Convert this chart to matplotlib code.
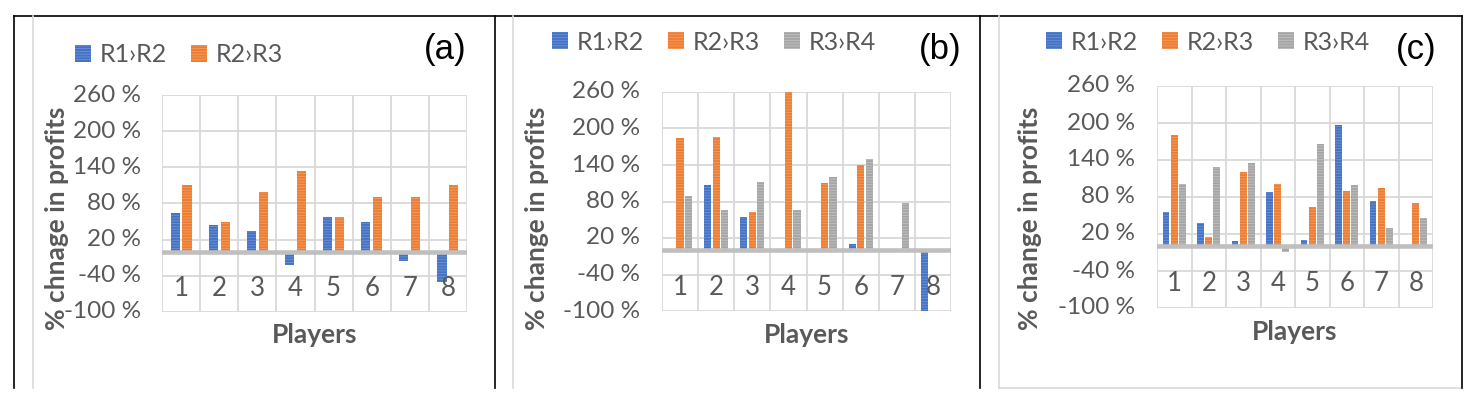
import matplotlib
matplotlib.use('Agg')
import matplotlib.pyplot as plt
import numpy as np
from matplotlib.lines import Line2D
from matplotlib.patches import Patch

players = [1, 2, 3, 4, 5, 6, 7, 8]
yticks = [-100, -40, 20, 80, 140, 200, 260]
series_names = ['R1\u203aR2', 'R2\u203aR3', 'R3\u203aR4']

# panel (a)
a_r12 = [65, 44, 35, -22, 57, 49, -16, -51]
a_r23 = [110, 50, 99, 134, 58, 90, 90, 110]
# panel (b)
b_r12 = [0, 107, 55, 0, 0, 10, 0, -100]
b_r23 = [184, 186, 63, 260, 110, 140, 0, 0]
b_r34 = [89, 66, 112, 66, 120, 150, 78, 0]
# panel (c)
c_r12 = [56, 38, 9, 88, 10, 197, 73, -3]
c_r23 = [180, 15, 120, 101, 64, 90, 95, 70]
c_r34 = [101, 129, 135, -9, 166, 99, 30, 46]

colors = ['#4472C4', '#ED7D31', '#A5A5A5']
hatch_colors = ['#6E93D6', '#F39C63', '#C2C2C2']
TXT = '#595959'
GRID = '#D9D9D9'

plt.rcParams['font.family'] = ['Lato', 'DejaVu Sans']
plt.rcParams['hatch.linewidth'] = 0.6

W, H = 1475, 403
fig = plt.figure(figsize=(W / 100, H / 100), dpi=100)


def fx(px):
    return px / W


def fy(py):
    return 1 - py / H


def box(l, t, r, b):
    return [fx(l), fy(b), fx(r) - fx(l), fy(t) - fy(b)]


def panel(rect, data, width, offsets, ylab, letter, tick_right, ylab_x, leg_x, leg_y, players_xy, letter_xy):
    ax = fig.add_axes(box(*rect))
    x = np.array(players)
    for i, vals in enumerate(data):
        ax.bar(x + offsets[i], vals, width, color=colors[i], edgecolor=hatch_colors[i],
               linewidth=0, hatch='------', zorder=2)
    ax.set_xlim(0.5, 8.5)
    ax.set_ylim(-100, 260)
    for y in yticks:
        ax.axhline(y, color=GRID, lw=1.3, zorder=1)
    for xv in np.arange(0.5, 9.0, 1.0):
        ax.axvline(xv, color=GRID, lw=1.3, zorder=1)
    ax.axhline(0, color='#BFBFBF', lw=3.3, zorder=3)
    ax.set_xticks([])
    ax.set_yticks([])
    for s in ax.spines.values():
        s.set_visible(False)
    for p in players:
        ax.text(p, -61, str(p), ha='center', va='center', fontsize=18.5, color=TXT, zorder=4)
    # y tick labels
    for y in yticks:
        fig.text(fx(tick_right), ax.transData.transform((0, y))[1] / H,
                 f'{y} %', ha='right', va='center', fontsize=17.5, color=TXT)
    fig.text(fx(ylab_x), fy(218), ylab, rotation=90, ha='center', va='center',
             fontsize=19, fontweight='bold', color=TXT)
    fig.text(fx(players_xy[0]), fy(players_xy[1]), 'Players', ha='center', va='center',
             fontsize=19, fontweight='bold', color=TXT)
    fig.text(fx(letter_xy[0]), fy(letter_xy[1]), letter, ha='center', va='center',
             fontsize=25, color='black', family=['Liberation Sans', 'DejaVu Sans'])
    handles = [Patch(facecolor=colors[i], edgecolor=hatch_colors[i], hatch='------', linewidth=0)
               for i in range(len(data))]
    fig.legend(handles, series_names[:len(data)], loc='center left',
               bbox_to_anchor=(fx(leg_x), fy(leg_y)), ncol=3, frameon=False,
               fontsize=18, handlelength=0.65, handleheight=0.65, handletextpad=0.35,
               columnspacing=0.95, borderpad=0, borderaxespad=0, labelcolor=TXT)
    return ax


panel((162, 95, 467, 312), [a_r12, a_r23], 0.24, [-0.155, 0.155],
      '% chnage in profits', '(a)', 141, 57, 75, 55, (315, 335), (445, 50))
panel((662, 92, 951, 311), [b_r12, b_r23, b_r34], 0.2, [-0.235, 0.0, 0.235],
      '% change in profits', '(b)', 640, 537, 552, 42, (807, 335), (940, 50))
panel((1157, 86, 1433, 308), [c_r12, c_r23, c_r34], 0.2, [-0.24, 0.0, 0.235],
      '% change in profits', '(c)', 1135, 1030, 1046, 42, (1295, 332), (1416, 50))

# panel frames
def line(xs, ys, color, lw):
    fig.add_artist(Line2D([fx(v) for v in xs], [fy(v) for v in ys], color=color, lw=lw))


line([14, 1462], [16, 16], 'black', 1.2)
for xv in [14, 495, 980, 1462]:
    line([xv, xv], [16, 388], 'black', 1.2)
for xv in [33, 513, 999]:
    line([xv, xv], [16, 388], GRID, 1.2)
line([999, 1460], [388, 388], GRID, 1.2)

fig.savefig('out.png', dpi=100)
